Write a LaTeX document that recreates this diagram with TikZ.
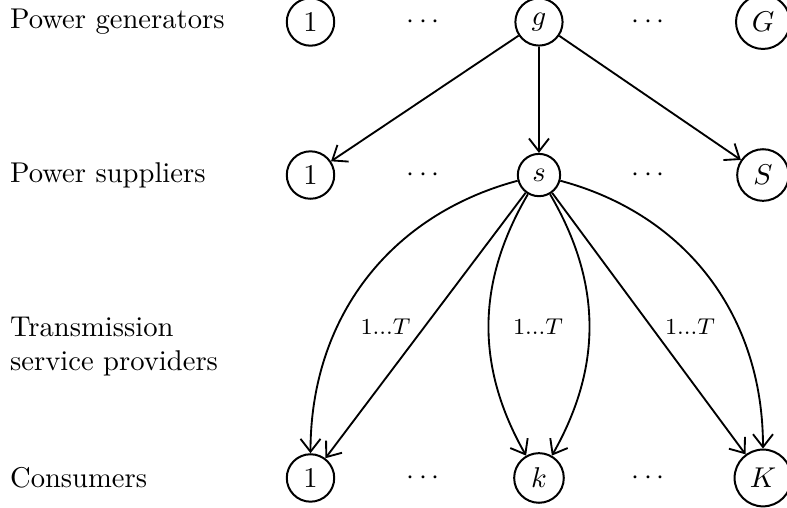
\documentclass[tikz,border=0pt]{standalone}
\usetikzlibrary{arrows.meta}
\begin{document}
\begin{tikzpicture}[
  circ/.style={draw, circle, line width=0.7pt, inner sep=3pt},
  lbl/.style={anchor=west},
  flow/.style={-{Straight Barb[length=4.5pt,width=7pt]}, line width=0.65pt}]

\useasboundingbox (0,0) rectangle (9.672,-6.231);

% row labels
\node[lbl] (lgen) at (0,-0.27) {Power generators};
\node[lbl] (lsup) at (0,-2.151) {Power suppliers};
\node[lbl, align=left] (ltsp) at (0,-4.262) {Transmission\\service providers};
\node[lbl] (lcon) at (0,-5.874) {Consumers};

% generators
\node[circ] (gen1) at (3.816,-0.27) {$1$};
\node[circ] (geng) at (6.624,-0.27) {$g$};
\node[circ] (genG) at (9.377,-0.27) {$G$};

% suppliers
\node[circ] (sup1) at (3.816,-2.151) {$1$};
\node[circ] (sups) at (6.624,-2.151) {$s$};
\node[circ] (supS) at (9.377,-2.151) {$S$};

% consumers
\node[circ] (con1) at (3.816,-5.874) {$1$};
\node[circ] (conk) at (6.624,-5.874) {$k$};
\node[circ] (conK) at (9.377,-5.874) {$K$};

\foreach \y/\n in {-0.27/gen, -2.151/sup, -5.874/con} {
  \node (\n-dl) at (5.199,\y) {$\cdots$};
  \node (\n-dr) at (7.964,\y) {$\cdots$};
}

\draw[flow] (geng) -- (sup1);
\draw[flow] (geng) -- (sups);
\draw[flow] (geng) -- (supS);

\draw[flow] (sups) to[out=195,in=90] (con1);
\draw[flow] (sups) -- (con1);
\draw[flow] (sups) to[bend right=30] (conk);
\draw[flow] (sups) to[bend left=30] (conk);
\draw[flow] (sups) -- (conK);
\draw[flow] (sups) to[out=-15,in=90] (conK);

% time periods
\node[font=\footnotesize] (tl) at (4.738,-4.013) {$1...T$};
\node[font=\footnotesize] (tm) at (6.612,-4.013) {$1...T$};
\node[font=\footnotesize] (tr) at (8.480,-4.013) {$1...T$};

\end{tikzpicture}
\end{document}
